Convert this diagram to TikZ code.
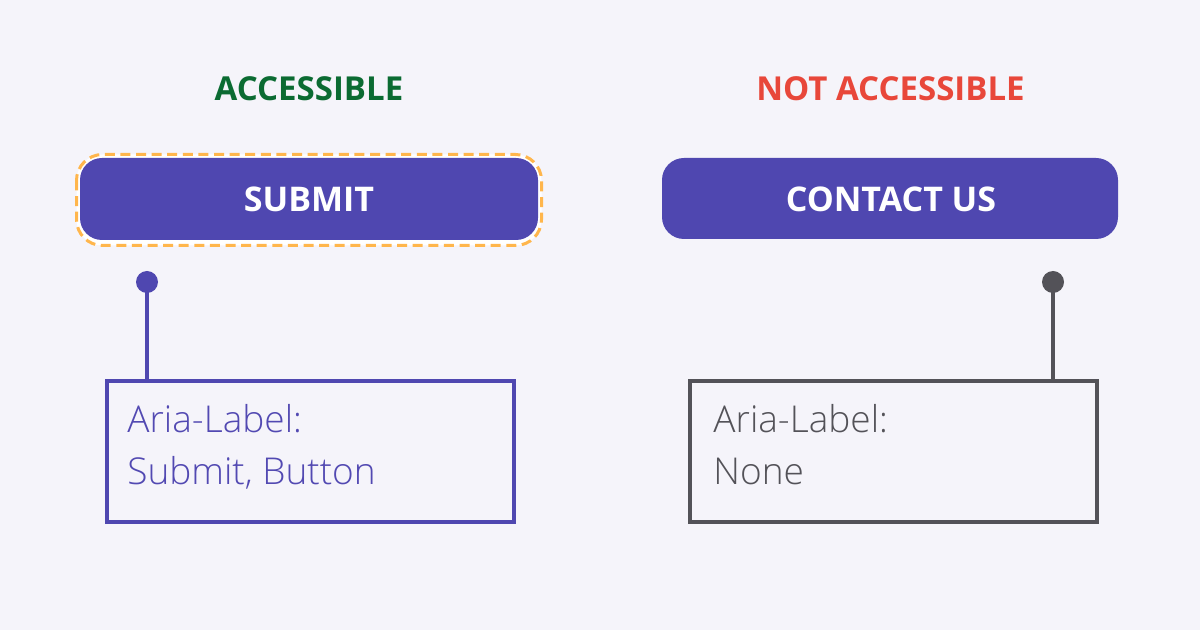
\documentclass[tikz,border=0pt]{standalone}
\usepackage{fontspec}
\setmainfont{Open Sans}
\newfontfamily\oslight{Open Sans Light}
\definecolor{bg}{HTML}{F5F4FA}
\definecolor{purp}{HTML}{4F47B0}
\definecolor{purptext}{HTML}{5249B2}
\definecolor{orng}{HTML}{FFB64C}
\definecolor{grn}{HTML}{0B6B32}
\definecolor{rd}{HTML}{E8473A}
\definecolor{gry}{HTML}{535258}
\tikzset{
  heading/.style={font=\bfseries\fontsize{16.5}{18}\selectfont, anchor=base, inner sep=0},
  btntext/.style={font=\bfseries\fontsize{17}{18}\selectfont, text=white, anchor=base, inner sep=0},
  btn/.style={fill=purp, rounded corners=11pt},
  labelbox/.style={line width=2pt, fill=none},
  boxtext/.style={font=\oslight\fontsize{18.5}{20}\selectfont, anchor=base west, inner sep=0},
  stem/.style={line width=2pt},
}
\begin{document}
\begin{tikzpicture}[x=0.5pt,y=-0.5pt]
\fill[bg] (0,0) rectangle (1200,630);
\useasboundingbox (0,0) rectangle (1200,630);
% headings
\node[heading, text=grn] (h1) at (309,101) {ACCESSIBLE};
\node[heading, text=rd] (h2) at (890.5,101) {NOT ACCESSIBLE};
% focus ring + submit
\draw[orng, line width=1.5pt, dash pattern=on 5pt off 2.8pt, fill=white, rounded corners=13pt] (76.5,154.5) rectangle (541.5,245.5);
\fill[btn] (80,158) rectangle (538,240);
\node[btntext] (t1) at (309,212) {SUBMIT};
% contact
\fill[btn] (662,158) rectangle (1118,239);
\node[btntext] (t2) at (891,212) {CONTACT US};
% left label box
\node[draw=purp, labelbox, minimum width=203.5pt, minimum height=70.5pt, anchor=north west, inner sep=0] (box1) at (105,379) {};
\coordinate (d1) at (147,282);
\draw[purp, stem] (d1) -- (d1 |- box1.north);
\fill[purp] (d1) circle (5.5pt);
\node[boxtext, text=purptext] (l1a) at (127,433) {Aria-Label:};
\node[boxtext, text=purptext] (l1b) at (127,485) {Submit, Button};
% right label box
\node[draw=gry, labelbox, minimum width=203.5pt, minimum height=70.5pt, anchor=north west, inner sep=0] (box2) at (688,379) {};
\coordinate (d2) at (1053,282);
\draw[gry, stem] (d2) -- (d2 |- box2.north);
\fill[gry] (d2) circle (5.5pt);
\node[boxtext, text=gry] (l2a) at (713,433) {Aria-Label:};
\node[boxtext, text=gry] (l2b) at (713,485) {None};
\end{tikzpicture}
\end{document}
